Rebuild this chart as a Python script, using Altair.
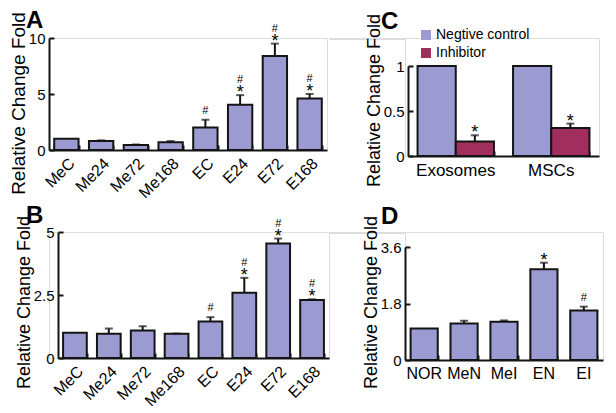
import altair as alt
import pandas as pd

FONT = "Liberation Sans"
BAR = "#9b9bd2"
INH = "#a02f5e"
EDGE = "#141414"

# ---- Panels A / B (time course) ----
time_cats = ["MeC", "Me24", "Me72", "Me168", "EC", "E24", "E72", "E168"]
a_vals = [1.0, 0.8, 0.45, 0.7, 2.0, 4.05, 8.4, 4.6]
a_errs = [0.0, 0.06, 0.04, 0.1, 0.7, 0.85, 1.1, 0.4]
b_vals = [1.0, 0.96, 1.09, 0.96, 1.45, 2.59, 4.54, 2.30]
b_errs = [0.0, 0.21, 0.17, 0.01, 0.17, 0.59, 0.20, 0.03]
time_star = [0, 0, 0, 0, 0, 1, 1, 1]
time_hash = [0, 0, 0, 0, 1, 1, 1, 1]
a_ticks = [0, 5, 10]
b_ticks = [0, 2.5, 5]

# ---- Panel C ----
c_groups = ["Exosomes", "MSCs"]
c_series = ["Negtive control", "Inhibitor"]
c_control = [1.0, 1.0]
c_inhib = [0.16, 0.31]
c_inhib_err = [0.07, 0.05]
c_ticks = [0, 0.5, 1]

# ---- Panel D ----
d_cats = ["NOR", "MeN", "MeI", "EN", "EI"]
d_vals = [1.0, 1.16, 1.22, 2.89, 1.58]
d_errs = [0.0, 0.09, 0.04, 0.21, 0.12]
d_star = [0, 0, 0, 1, 0]
d_hash = [0, 0, 0, 0, 1]
d_ticks = [0, 1.8, 3.6]


def y_main(ticks, title_size, title_y, left=0):
    return alt.Axis(values=ticks, ticks=False, grid=False, domainColor=EDGE, domainWidth=2,
                    labelFont=FONT, labelFontSize=15, labelColor="black", labelPadding=4,
                    labelExpr="'' + datum.value", offset=-left,
                    title="Relative Change Fold", titleFont=FONT, titleFontSize=title_size,
                    titleFontWeight="normal", titleColor="black", titlePadding=0,
                    titleY=title_y)


def y_tick(ticks, w, left=0):
    return alt.Axis(orient="right", offset=left - w, values=ticks, labels=False, domain=False,
                    ticks=True, tickSize=5, tickWidth=2, tickColor=EDGE, grid=False, title=None)


def x_tick_axis(h):
    return alt.Axis(orient="top", offset=-h, labels=False, domain=False, ticks=True,
                    tickBand="extent", tickSize=5, tickWidth=2, tickColor=EDGE, grid=False,
                    title=None)


def letter(txt, dx, off):
    return alt.TitleParams(text=txt, anchor="start", frame="group", font=FONT, fontSize=24,
                           fontWeight="bold", color="black", dx=dx, offset=off)


def simple_panel(cats, vals, errs, stars, hashes, ymax, ticks, w, h, name, angle,
                 label_size, title_size, title_y, pin, pout, ldx, loff, left=0, top=0):
    df = pd.DataFrame({"cat": cats, "val": vals, "err": errs, "star": stars, "hash": hashes})
    base = alt.Chart(df).transform_calculate(top="datum.val + datum.err")
    xs = alt.Scale(domain=cats, paddingInner=pin, paddingOuter=pout, range=[left, w])
    ys = alt.Scale(domain=[0, ymax], nice=False, zero=True, range=[h, top])
    x_main = alt.X("cat:N", sort=cats, scale=xs,
                   axis=alt.Axis(ticks=False, domainColor=EDGE, domainWidth=2, labelAngle=angle,
                                 labelFont=FONT, labelFontSize=label_size, labelColor="black",
                                 labelPadding=5, title=None, grid=False))
    x_none = alt.X("cat:N", sort=cats, scale=xs, axis=None)
    x_t = alt.X("cat:N", sort=cats, scale=xs, axis=x_tick_axis(h))
    bars = base.mark_bar(fill=BAR, stroke=EDGE, strokeWidth=2).encode(
        x=x_main, y=alt.Y("val:Q", scale=ys, axis=y_main(ticks, title_size, title_y, left)))
    errb = base.transform_filter("datum.err > 0").mark_rule(color=EDGE, strokeWidth=2).encode(
        x=x_none, y=alt.Y("val:Q", scale=ys, axis=None), y2="top:Q")
    cap = base.transform_filter("datum.err > 0").mark_tick(
        color=EDGE, thickness=2, size=8, orient="horizontal").encode(
        x=x_t, y=alt.Y("top:Q", scale=ys, axis=y_tick(ticks, w, left)))
    star = base.transform_filter("datum.star == 1").mark_text(
        text="*", font=FONT, fontSize=18, baseline="alphabetic", dy=3, color="black").encode(
        x=x_none, y=alt.Y("top:Q", scale=ys, axis=None))
    hash_hi = base.transform_filter("datum.star == 1 && datum.hash == 1").mark_text(
        text="#", font=FONT, fontSize=11, baseline="alphabetic", dy=-12, color="black").encode(
        x=x_none, y=alt.Y("top:Q", scale=ys, axis=None))
    hash_lo = base.transform_filter("datum.star == 0 && datum.hash == 1").mark_text(
        text="#", font=FONT, fontSize=11, baseline="alphabetic", dy=-6, color="black").encode(
        x=x_none, y=alt.Y("top:Q", scale=ys, axis=None))
    return alt.layer(bars, errb, cap, star, hash_hi, hash_lo).resolve_axis(
        x="independent", y="independent").properties(
        width=w, height=h, title=letter(name, ldx, loff))


# panel A: plot 278 x 112
panel_a = simple_panel(time_cats, a_vals, a_errs, time_star, time_hash, 10, a_ticks, 278, 112,
                       "A", -45, 16, 19, 65, 0.3, 0.15, -23, -21)
# panel B: cell 280 x 126, its axes start 9 px in
panel_b = simple_panel(time_cats, b_vals, b_errs, time_star, time_hash, 5, b_ticks, 280, 126,
                       "B", -45, 16, 18, 70, 0.3, 0.15, -23, -13, left=9)
# panel D: cell 198 x 128, its value axis starts 15 px down
panel_d = simple_panel(d_cats, d_vals, d_errs, d_star, d_hash, 3.6, d_ticks, 198, 128,
                       "D", 0, 16, 18, 70, 0.32, 0.14, -24, -14, top=15)

# Panel C (grouped): cell 194 x 118, axes start 3 px in and 28 px down
CW, CH, CL, CT = 194, 118, 3, 28
c_rows = []
for i, g in enumerate(c_groups):
    c_rows.append({"group": g, "series": c_series[0], "val": c_control[i], "err": 0.0})
    c_rows.append({"group": g, "series": c_series[1], "val": c_inhib[i], "err": c_inhib_err[i]})
cdf = pd.DataFrame(c_rows)
cbase = alt.Chart(cdf).transform_calculate(top="datum.val + datum.err")
cxs = alt.Scale(domain=c_groups, paddingInner=0.2, paddingOuter=0.1, range=[CL, CW])
cys = alt.Scale(domain=[0, 1], nice=False, zero=True, range=[CH, CT])
cxo = alt.XOffset("series:N", sort=c_series,
                  scale=alt.Scale(domain=c_series, paddingInner=0, paddingOuter=0))
c_bars = cbase.mark_bar(stroke=EDGE, strokeWidth=2).encode(
    x=alt.X("group:N", sort=c_groups, scale=cxs,
            axis=alt.Axis(ticks=False, domainColor=EDGE, domainWidth=2, labelAngle=0,
                          labelFont=FONT, labelFontSize=17, labelColor="black", labelPadding=6,
                          title=None, grid=False)),
    xOffset=cxo,
    y=alt.Y("val:Q", scale=cys, axis=y_main(c_ticks, 18, 62, CL)),
    fill=alt.Fill("series:N", sort=c_series,
                  scale=alt.Scale(domain=c_series, range=[BAR, INH]),
                  legend=alt.Legend(orient="none", legendX=14, legendY=-10, title=None,
                                    symbolType="square", symbolSize=100, symbolStrokeWidth=0,
                                    labelFont=FONT, labelFontSize=14, labelColor="black",
                                    rowPadding=4, labelOffset=3)),
)
c_inh = cbase.transform_filter("datum.err > 0")
c_err = c_inh.mark_rule(color=EDGE, strokeWidth=2).encode(
    x=alt.X("group:N", sort=c_groups, scale=cxs, axis=None), xOffset=cxo,
    y=alt.Y("val:Q", scale=cys, axis=None), y2="top:Q")
c_cap = c_inh.mark_tick(color=EDGE, thickness=2, size=8, orient="horizontal").encode(
    x=alt.X("group:N", sort=c_groups, scale=cxs, axis=x_tick_axis(CH)), xOffset=cxo,
    y=alt.Y("top:Q", scale=cys, axis=y_tick(c_ticks, CW, CL)))
c_star = c_inh.mark_text(text="*", font=FONT, fontSize=18, baseline="alphabetic", dy=3,
                         color="black").encode(
    x=alt.X("group:N", sort=c_groups, scale=cxs, axis=None), xOffset=cxo,
    y=alt.Y("top:Q", scale=cys, axis=None))
panel_c = alt.layer(c_bars, c_err, c_cap, c_star).resolve_axis(
    x="independent", y="independent").properties(width=CW, height=CH,
                                                  title=letter("C", -24, -21))

SPACER_DATA = pd.DataFrame({"s": [0]})


def spacer(w, h):
    # empty layout cell: only its width/height take part in the (flush) grid layout
    return alt.Chart(SPACER_DATA).mark_text(text=" ", fontSize=1, opacity=0).encode(
        x=alt.value(0), y=alt.value(0)).properties(width=w, height=h)


cells = [panel_a, spacer(76, 1), panel_c,
         panel_b, spacer(76, 1), panel_d]

chart = alt.concat(*cells, columns=3, align="each", bounds="flush",
                   spacing={"row": 76, "column": 0}).resolve_scale(
    fill="independent").resolve_legend(fill="independent").properties(
    padding={"left": 0, "top": 0, "right": 0, "bottom": 0}
).configure_view(stroke=None).configure(background="white")

chart.save("out.html", embed_options={"renderer": "svg", "actions": False})
